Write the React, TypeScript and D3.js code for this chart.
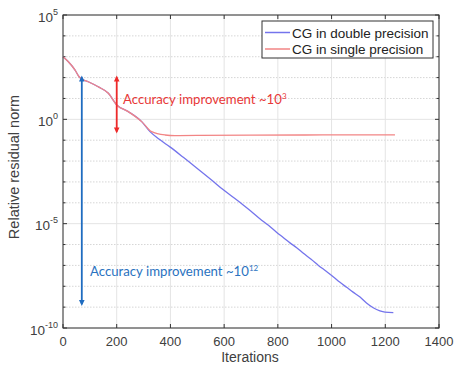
import React from "react";
import * as d3 from "d3";

// iterations / log10(relative residual)
const singleIter = [0, 20, 45, 60, 70, 94, 131, 169, 200, 243, 293, 330, 380, 417, 500, 700, 900, 1100, 1236];
const singleExp = [3.0, 2.76, 2.36, 2.04, 1.93, 1.8, 1.56, 1.25, 0.69, 0.37, -0.11, -0.59, -0.75, -0.78, -0.77, -0.76, -0.75, -0.74, -0.74];

const doubleIter = [0, 20, 45, 60, 70, 94, 131, 169, 200, 243, 293, 324, 360, 398, 448, 485, 522, 560, 597, 635, 671, 700, 733, 765, 796, 820, 845, 870, 895, 925, 951, 980, 1006, 1030, 1056, 1080, 1106, 1130, 1155, 1180, 1199, 1230];
const doubleExp = [3.0, 2.76, 2.36, 2.04, 1.93, 1.8, 1.56, 1.25, 0.69, 0.37, -0.11, -0.59, -0.97, -1.32, -1.82, -2.2, -2.58, -2.98, -3.38, -3.75, -4.1, -4.4, -4.76, -5.08, -5.42, -5.66, -5.92, -6.15, -6.42, -6.72, -7.0, -7.28, -7.54, -7.8, -8.05, -8.28, -8.52, -8.8, -9.03, -9.18, -9.24, -9.26];

const xTicks = [0, 200, 400, 600, 800, 1000, 1200, 1400];
const yMajorExps = [5, 0, -5, -10];
const yMinorExps = d3.range(-10, 6);

const legendLabels = ["CG in double precision", "CG in single precision"];
const seriesColors = ["#7474ec", "#f28585"];

// annotation arrows: [iteration, top exponent, bottom exponent]
const blueArrow = [70, 2.1, -8.95];
const redArrow = [200, 2.1, -0.68];

const W = 456;
const H = 365;
const m = { left: 63, right: 439, top: 15, bottom: 328 };

export default function App() {
  const x = d3.scaleLinear().domain([0, 1400]).range([m.left, m.right]);
  const y = d3.scaleLog().domain([1e-10, 1e5]).range([m.bottom, m.top]);

  const line = d3
    .line<[number, number]>()
    .x((d) => x(d[0]))
    .y((d) => y(Math.pow(10, d[1])))
    .curve(d3.curveMonotoneX);

  const single = singleIter.map((it, i) => [it, singleExp[i]] as [number, number]);
  const double = doubleIter.map((it, i) => [it, doubleExp[i]] as [number, number]);

  const axisFont = "'Liberation Sans', Arial, sans-serif";
  const noteFont = "Lato, 'Open Sans', sans-serif";
  const textCol = "#404040";

  const arrow = (a: number[], color: string) => {
    const ax = x(a[0]);
    const y1 = y(Math.pow(10, a[1]));
    const y2 = y(Math.pow(10, a[2]));
    const hw = 2.8;
    const hl = 6;
    return (
      <g>
        <line x1={ax} x2={ax} y1={y1 + 2} y2={y2 - 2} stroke={color} strokeWidth={1.8} />
        <polygon points={`${ax},${y1} ${ax - hw},${y1 + hl} ${ax + hw},${y1 + hl}`} fill={color} />
        <polygon points={`${ax},${y2} ${ax - hw},${y2 - hl} ${ax + hw},${y2 - hl}`} fill={color} />
      </g>
    );
  };

  return (
    <div style={{ position: "fixed", left: 0, top: 0 }}>
      <svg width={W} height={H} style={{ display: "block", background: "#fff" }}>
        {/* minor grid (every decade) */}
        {yMinorExps
          .filter((e) => e % 5 !== 0)
          .map((e) => (
            <line key={"mg" + e} x1={m.left} x2={m.right} y1={y(Math.pow(10, e))} y2={y(Math.pow(10, e))}
              stroke="#d6d6d6" strokeWidth={1} strokeDasharray="1.5,1.5" />
          ))}
        {/* major grid */}
        {yMajorExps.map((e) => (
          <line key={"g" + e} x1={m.left} x2={m.right} y1={y(Math.pow(10, e))} y2={y(Math.pow(10, e))}
            stroke="#e4e4e4" strokeWidth={1} />
        ))}
        {xTicks.map((t) => (
          <line key={"gx" + t} x1={x(t)} x2={x(t)} y1={m.top} y2={m.bottom} stroke="#e4e4e4" strokeWidth={1} />
        ))}

        {/* ticks */}
        {xTicks.map((t) => (
          <g key={"tx" + t}>
            <line x1={x(t)} x2={x(t)} y1={m.bottom} y2={m.bottom - 4} stroke="#333" />
            <line x1={x(t)} x2={x(t)} y1={m.top} y2={m.top + 4} stroke="#333" />
            <text x={x(t)} y={346} textAnchor="middle" fontFamily={axisFont} fontSize={13} fill={textCol}>{t}</text>
          </g>
        ))}
        {yMinorExps.map((e) => {
          const len = e % 5 === 0 ? 4 : 2.5;
          const yy = y(Math.pow(10, e));
          return (
            <g key={"ty" + e}>
              <line x1={m.left} x2={m.left + len} y1={yy} y2={yy} stroke="#333" />
              <line x1={m.right} x2={m.right - len} y1={yy} y2={yy} stroke="#333" />
            </g>
          );
        })}
        {yMajorExps.map((e) => (
          <text key={"yl" + e} x={m.left - 5} y={y(Math.pow(10, e)) + 6.5} textAnchor="end"
            fontFamily={axisFont} fontSize={13.5} fill={textCol}>
            10<tspan dy={-7} fontSize={9}>{e}</tspan>
          </text>
        ))}

        {/* series */}
        <path d={line(double) || ""} fill="none" stroke={seriesColors[0]} strokeWidth={1.3} />
        <path d={line(single) || ""} fill="none" stroke={seriesColors[1]} strokeWidth={1.3} />

        {/* box */}
        <rect x={m.left} y={m.top} width={m.right - m.left} height={m.bottom - m.top} fill="none" stroke="#333" strokeWidth={1} />

        {/* annotations */}
        {arrow(blueArrow, "#1f6cc0")}
        {arrow(redArrow, "#ee2a2a")}
        <text x={123} y={104} fontFamily={noteFont} fontSize={13.2} fill="#e83838">
          Accuracy improvement ~10<tspan dy={-5} fontSize={8}>3</tspan>
        </text>
        <text x={90} y={276} fontFamily={noteFont} fontSize={13.2} fill="#2a72c0">
          Accuracy improvement ~10<tspan dy={-5} fontSize={8}>12</tspan>
        </text>

        {/* axis labels */}
        <text x={250} y={362} textAnchor="middle" fontFamily={axisFont} fontSize={14} fill={textCol}>Iterations</text>
        <text transform={`translate(19,${167}) rotate(-90)`} textAnchor="middle" fontFamily={axisFont} fontSize={14.5} fill={textCol}>
          Relative residual norm
        </text>

        {/* legend */}
        <rect x={262} y={21} width={171} height={37} fill="#fff" stroke="#333" strokeWidth={1} />
        {legendLabels.map((l, i) => (
          <g key={l}>
            <line x1={265} x2={290} y1={32.5 + i * 16.5} y2={32.5 + i * 16.5} stroke={seriesColors[i]} strokeWidth={1.5} />
            <text x={292} y={37.5 + i * 16.5} fontFamily={axisFont} fontSize={13.5} fill="#222">{l}</text>
          </g>
        ))}
      </svg>
    </div>
  );
}
